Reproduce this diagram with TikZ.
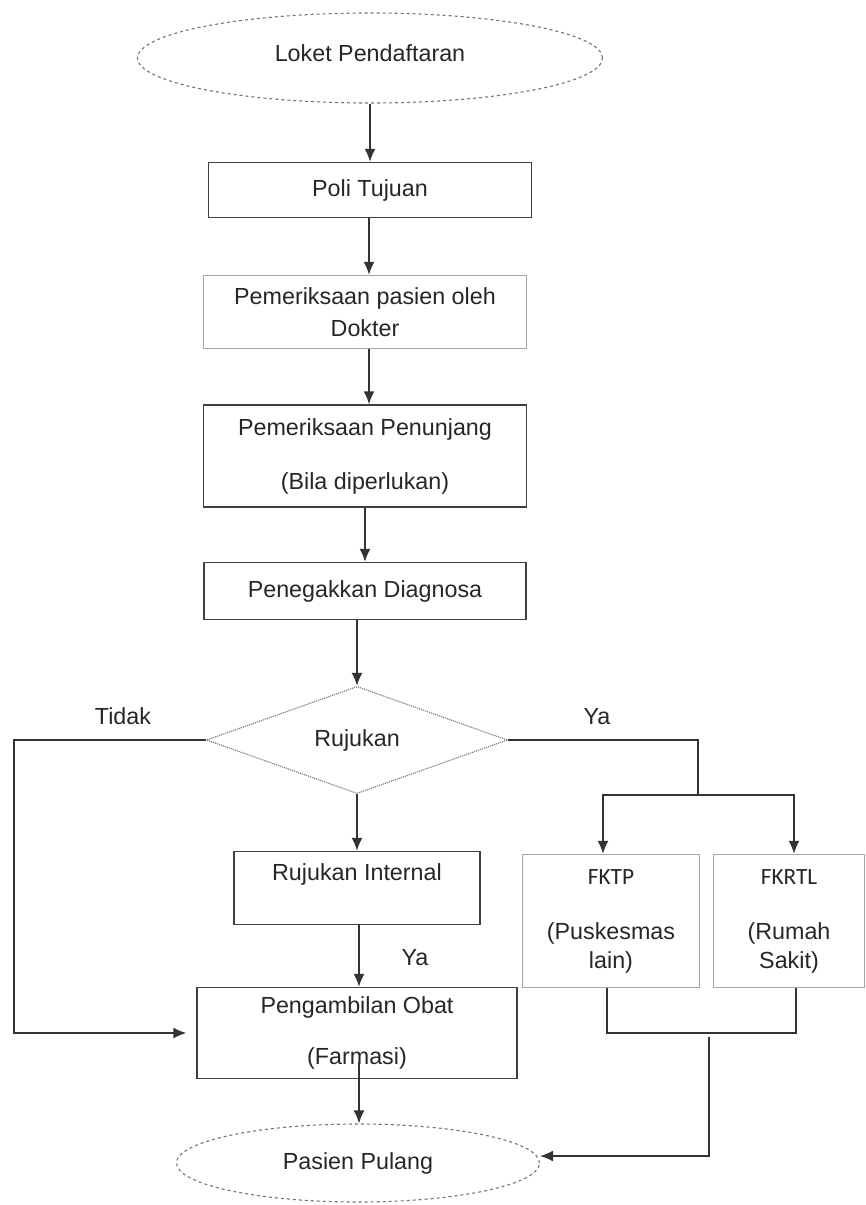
\documentclass[tikz,border=0pt]{standalone}
\usepackage{fontspec}
\setmainfont{Liberation Sans}
\newfontfamily\fkfont{Carlito}
\usepackage{tikz}
\usetikzlibrary{shapes.geometric,arrows.meta}

\begin{document}
\begin{tikzpicture}[x=1pt, y=-1pt,
    every node/.style={font=\fontsize{23.3}{32}\selectfont, text=black!85},
    proses/.style={draw=black!75, line width=1.4pt, rectangle, align=center, inner sep=0pt},
    proses tipis/.style={proses, draw=black!35},
    terminal/.style={draw=black!55, dashed, line width=1.1pt, ellipse, inner sep=0pt},
    keputusan/.style={draw=black!55, densely dotted, line width=1.1pt, diamond, inner sep=0pt},
    panah/.style={-{Latex[length=13pt,width=11pt]}},
    line width=1.6pt, draw=black!80]

    \useasboundingbox (0,0) rectangle (865,1205);

    \node[terminal, minimum width=465pt, minimum height=90pt] (loket) at (370,58)
    {\raisebox{10pt}{Loket Pendaftaran}};

    \node[proses, minimum width=323pt, minimum height=55pt] (poli) at (370,190)
    {\raisebox{3pt}{Poli Tujuan}};

    \node[proses tipis, minimum width=323pt, minimum height=73pt] (dokter) at (365,312)
    {Pemeriksaan pasien oleh\\Dokter};

    \node[proses, minimum width=323pt, minimum height=102pt] (penunjang) at (365,456)
    {Pemeriksaan Penunjang\\[22pt](Bila diperlukan)};

    \node[proses, minimum width=322pt, minimum height=57pt] (diagnosa) at (365,591)
    {Penegakkan Diagnosa};

    \node[keputusan, minimum width=301pt, minimum height=104pt] (rujukan) at (357,740)
    {\raisebox{3pt}{Rujukan}};

    \node[proses, minimum width=246pt, minimum height=73pt] (internal) at (357,888)
    {Rujukan Internal\\\mbox{}};

    \node[proses, minimum width=320pt, minimum height=91pt] (obat) at (357,1033)
    {Pengambilan Obat\\[19pt](Farmasi)};

    \node[proses tipis, minimum width=177pt, minimum height=133pt] (fktp) at (611,921)
    {{\fkfont FKTP}\\[23pt](Puskesmas\\[-3pt]lain)};

    \node[proses tipis, minimum width=151pt, minimum height=133pt] (fkrtl) at (789,921)
    {{\fkfont FKRTL}\\[23pt](Rumah\\[-3pt]Sakit)};

    \node[terminal, minimum width=363pt, minimum height=78pt] (pulang) at (358,1163)
    {Pasien Pulang};

    \node (tidak) at (123,716) {Tidak};
    \node (ya) at (597,717) {Ya};
    \node (yainternal) at (415,958) {Ya};

    \coordinate (kiri) at (14,740);
    \coordinate (cabang) at (698,795);
    \coordinate (gabung) at (709,1033);
    \coordinate (farmasi) at (359,1062);

    \draw[panah] (loket) -- (poli);
    \draw[panah] ([xshift=-1pt]poli.south) -- ([xshift=-1pt]poli.south |- dokter.north);
    \draw[panah] ([xshift=4pt]dokter.south) -- ([xshift=4pt]dokter.south |- penunjang.north);
    \draw[panah] (penunjang) -- (diagnosa);
    \draw[panah] (diagnosa.south -| rujukan.north) -- (rujukan.north);

    \draw[panah, shorten >=10pt] (rujukan.west) -- (kiri) |- (obat.west);
    \draw[panah] (rujukan.south) -- (internal.north);
    \draw[panah] ([xshift=2pt]internal.south) -- ([xshift=2pt]obat.north);
    \draw[panah] (farmasi) -- (farmasi |- pulang.north);

    \draw (rujukan.east) -| (cabang);
    \draw[panah] (cabang) -| ([xshift=-8pt]fktp.north);
    \draw[panah] (cabang) -| ([xshift=5pt]fkrtl.north);

    \draw ([xshift=-4pt]fktp.south) |- (gabung) -| ([xshift=7pt]fkrtl.south);
    \draw[panah] ([yshift=-4pt]gabung) |- ([yshift=7pt]pulang.east);

\end{tikzpicture}
\end{document}
